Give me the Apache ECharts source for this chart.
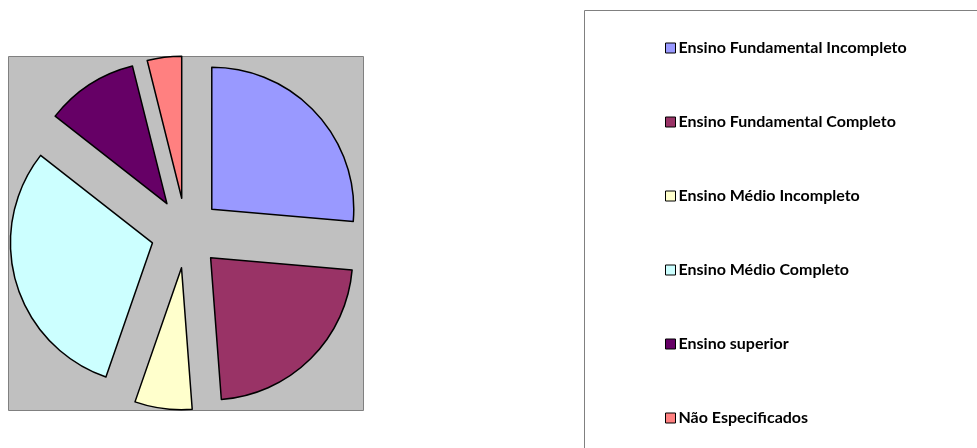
<!DOCTYPE html>
<html>
<head>
<meta charset="utf-8">
<script src="https://cdn.jsdelivr.net/npm/echarts@6/dist/echarts.min.js"></script>
<style>
html,body{margin:0;padding:0;background:#fff;}
#chart{width:977px;height:448px;}
</style>
</head>
<body>
<div id="chart"></div>
<script>
var categories = ['Ensino Fundamental Incompleto', 'Ensino Fundamental Completo', 'Ensino Médio Incompleto', 'Ensino Médio Completo', 'Ensino superior', 'Não Especificados'];
var values = [26.3, 22.4, 6.5, 30.2, 10.5, 3.9];
var colors = ['#9999FF', '#993366', '#FFFFCC', '#CCFFFF', '#660066', '#FF8080'];

var myChart = echarts.init(document.getElementById('chart'));

var pieData = [];
for (var i = 0; i < categories.length; i++) {
	pieData.push({
		name: categories[i],
		value: values[i],
		selected: true,
		itemStyle: {color: colors[i]}
	});
}

var option = {
	animation: false,
	color: colors,
	graphic: [
		{
			type: 'rect',
			shape: {x: 8.5, y: 56.5, width: 355, height: 354},
			style: {fill: '#C0C0C0', stroke: '#808080', lineWidth: 1},
			z: -10
		},
		{
			type: 'rect',
			shape: {x: 584.5, y: 10.5, width: 420, height: 460},
			style: {fill: '#fff', stroke: '#808080', lineWidth: 1},
			z: -10
		}
	],
	legend: {
		orient: 'vertical',
		left: 665,
		top: 40,
		padding: 0,
		itemWidth: 10,
		itemHeight: 10,
		itemGap: 58,
		icon: 'rect',
		itemStyle: {borderColor: '#000', borderWidth: 1},
		selectedMode: false,
		textStyle: {
			fontFamily: 'Lato',
			fontWeight: 'bold',
			fontSize: 16,
			color: '#000',
			lineHeight: 16,
			padding: [0, 0, 0, -2]
		},
		data: categories
	},
	series: [{
		type: 'pie',
		center: [186, 233],
		radius: [0, 142],
		startAngle: 90,
		clockwise: true,
		selectedMode: 'multiple',
		selectedOffset: 35,
		label: {show: false},
		labelLine: {show: false},
		emphasis: {disabled: true},
		itemStyle: {borderColor: '#000', borderWidth: 1.5},
		data: pieData
	}]
};

myChart.setOption(option, true);
</script>
</body>
</html>
